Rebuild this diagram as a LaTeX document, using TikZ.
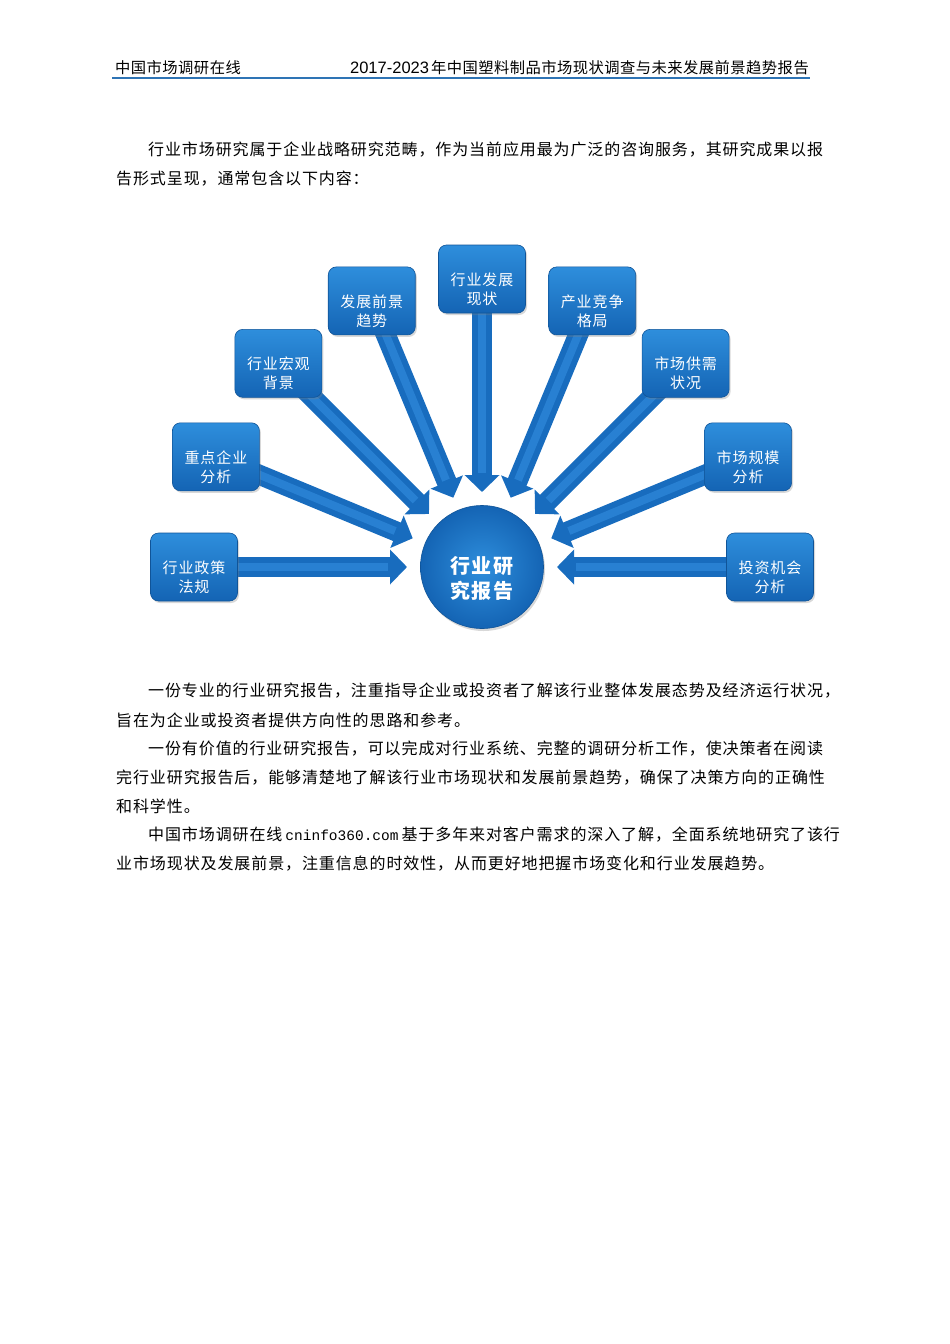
\documentclass[tikz,border=0pt]{standalone}
\usepackage{fontspec}
\setmainfont{Noto Sans CJK SC}
\newfontfamily\bodyfont[LetterSpace=5.6]{Noto Sans CJK SC}
\newfontfamily\hdfont[LetterSpace=3]{Noto Sans CJK SC}
\newfontfamily\tilefont[LetterSpace=6]{Noto Sans CJK SC}
\newfontfamily\arialfont{Liberation Sans}
\newfontfamily\sitefont{Liberation Mono}
\newcommand\siteurl{\kern3pt{\sitefont\fontsize{14.5}{16}\selectfont cninfo360.com}\kern3pt}
\usetikzlibrary{arrows.meta,calc,shadows,backgrounds}
\definecolor{rulecol}{RGB}{46,116,181}
\definecolor{tilehi}{RGB}{46,142,220}
\definecolor{tilelo}{RGB}{20,100,180}
\definecolor{tilerim}{RGB}{16,84,152}
\definecolor{pipecol}{RGB}{24,108,190}
\definecolor{pipehi}{RGB}{40,128,210}
\tikzset{
  para/.style={anchor=west,inner sep=0pt,font=\bodyfont\fontsize{16}{20}\selectfont},
  tile/.style={rounded corners=8pt,minimum width=87pt,minimum height=68pt,
    top color=tilehi,bottom color=tilelo,draw=tilerim,line width=0.6pt,
    drop shadow={shadow xshift=1.5pt,shadow yshift=-2pt,opacity=0.3}},
  tiletext/.style={text=white,align=center,yshift=-10pt,
    font=\tilefont\fontsize{15}{19}\selectfont},
  core/.style={circle,minimum size=123pt,inner color=tilehi,outer color=tilelo,
    draw=tilerim,line width=0.6pt,
    drop shadow={shadow xshift=1.5pt,shadow yshift=-2.5pt,opacity=0.3}},
  pipe/.style={line width=20pt,draw=pipecol,-{Triangle[width=34pt,length=17pt]}},
  pipeglow/.style={line width=8pt,draw=pipehi}
}
\begin{document}
\begin{tikzpicture}[x=1pt,y=1pt]
\useasboundingbox (0,0) rectangle (950,-1344);
% header
\node[anchor=west,inner sep=0pt,font=\hdfont\fontsize{15.3}{18}\selectfont] (hleft) at (115,-68) {中国市场调研在线};
\node[anchor=east,inner sep=0pt,font=\hdfont\fontsize{15.3}{18}\selectfont] (hright) at (809,-68)
  {{\arialfont\fontsize{16.5}{18}\selectfont 2017-2023}\kern2pt 年中国塑料制品市场现状调查与未来发展前景趋势报告};
\draw[rulecol,line width=1.2pt] (112,-78) -- (810,-78);
% body text
\foreach \yy/\xx/\txt [count=\i] in {
  150/148/{行业市场研究属于企业战略研究范畴，作为当前应用最为广泛的咨询服务，其研究成果以报},
  179/116/{告形式呈现，通常包含以下内容：},
  691/148/{一份专业的行业研究报告，注重指导企业或投资者了解该行业整体发展态势及经济运行状况，},
  720/116/{旨在为企业或投资者提供方向性的思路和参考。},
  749/148/{一份有价值的行业研究报告，可以完成对行业系统、完整的调研分析工作，使决策者在阅读},
  778/116/{完行业研究报告后，能够清楚地了解该行业市场现状和发展前景趋势，确保了决策方向的正确性},
  806/116/{和科学性。},
  835/148/{中国市场调研在线\siteurl 基于多年来对客户需求的深入了解，全面系统地研究了该行},
  864/116/{业市场现状及发展前景，注重信息的时效性，从而更好地把握市场变化和行业发展趋势。}}
  \node[para] (p\i) at (\xx,-\yy) {\txt};
% diagram
\node[core,label={[text=white,align=center,yshift=-11pt,
    font=\tilefont\bfseries\fontsize{20}{25}\selectfont]center:行业研\\究报告}] (core) at (482,-567) {};
\foreach \txt [count=\i] in {行业政策\\法规,重点企业\\分析,行业宏观\\背景,发展前景\\趋势,
    行业发展\\现状,产业竞争\\格局,市场供需\\状况,市场规模\\分析,投资机会\\分析}{
  \pgfmathsetmacro\ang{202.5-22.5*\i}
  \node[tile,label={[tiletext]center:\txt}] (b\i) at ($(core)+(\ang:288)$) {};
  \coordinate (t\i) at ($(core)+(\ang:75)$);
}
\begin{scope}[on background layer]
  \fill[white] (0,0) rectangle (950,-1344);
  \foreach \i in {1,...,9}{
    \draw[pipe] (b\i.center) -- (t\i);
    \draw[pipeglow] (b\i.center) -- ($(t\i)!19pt!(b\i.center)$);
  }
\end{scope}
\end{tikzpicture}
\end{document}
